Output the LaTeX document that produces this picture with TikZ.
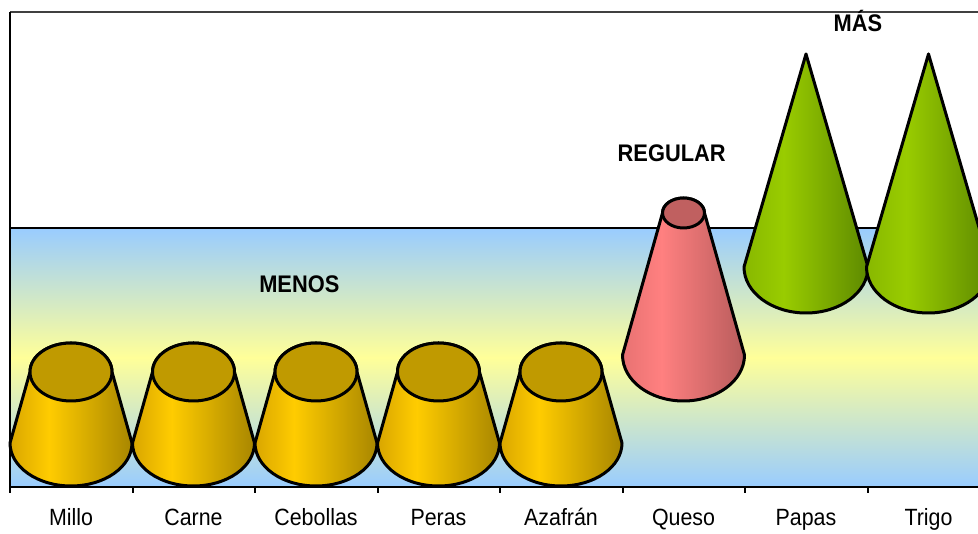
\documentclass[tikz,border=0pt]{standalone}
\usepackage{fontspec}
\setmainfont{Liberation Sans}[FakeStretch=0.91]
\usepackage{xcolor}

\definecolor{band-blue}{HTML}{99CCFF}
\definecolor{band-yellow}{HTML}{FFFF99}
\definecolor{gold-left}{HTML}{D9A600}
\definecolor{gold-light}{HTML}{FFCC00}
\definecolor{gold-right}{HTML}{A88600}
\definecolor{gold-top}{HTML}{C09A00}
\definecolor{rose-left}{HTML}{E87272}
\definecolor{rose-light}{HTML}{FF8080}
\definecolor{rose-right}{HTML}{B85C5C}
\definecolor{rose-top}{HTML}{C06060}
\definecolor{lime-left}{HTML}{88B800}
\definecolor{lime-light}{HTML}{99CC00}
\definecolor{lime-right}{HTML}{5E8A00}

\pgfdeclarehorizontalshading{gold-shade}{100bp}{color(0bp)=(gold-left); color(25bp)=(gold-left); color(41bp)=(gold-light); color(75bp)=(gold-right); color(100bp)=(gold-right)}
\pgfdeclarehorizontalshading{rose-shade}{100bp}{color(0bp)=(rose-left); color(25bp)=(rose-left); color(41bp)=(rose-light); color(75bp)=(rose-right); color(100bp)=(rose-right)}
\pgfdeclarehorizontalshading{lime-shade}{100bp}{color(0bp)=(lime-left); color(25bp)=(lime-left); color(41bp)=(lime-light); color(75bp)=(lime-right); color(100bp)=(lime-right)}

\tikzset{
    solid-body/.style = {draw=black, line width=3pt, line join=round},
    level-label/.style = {font=\fontsize{24}{27}\selectfont\bfseries, anchor=base},
    axis-label/.style = {font=\fontsize{23.5}{26}\selectfont, anchor=base},
}

\begin{document}
\begin{tikzpicture}[x=1pt, y=1pt]
\useasboundingbox (0,0) rectangle (978,534);
\fill[white] (0,0) rectangle (978,534);

% band behind the bodies
\shade[top color=band-blue, bottom color=band-blue, middle color=band-yellow] (10,47) rectangle (978,306);
\draw[line width=1.8pt] (10,306) -- (978,306);

% frame and axis
\draw[line width=1.3pt, black!75] (10,522) -- (978,522);
\draw[line width=2pt] (10,522) -- (10,47) -- (978,47);
\foreach \i in {0,...,7}
    \draw[line width=2pt] ({10+122.5*\i},47) -- ++(0,-6);
\foreach \name [count=\i from 0] in {Millo,Carne,Cebollas,Peras,Azafrán,Queso,Papas,Trigo}
    \node[axis-label] (cat-\i) at ({71+122.5*\i},8) {\name};

% low group
\foreach \cx in {71,193.5,316,438.5,561} {
    \shadedraw[solid-body, shading=gold-shade] ({\cx-41},162) -- ({\cx-61},91)
        arc[start angle=180, end angle=360, x radius=61, y radius=43]
        -- ({\cx+41},162) arc[start angle=0, end angle=180, x radius=41, y radius=29] -- cycle;
    \filldraw[solid-body, fill=gold-top] (\cx,162) ellipse[x radius=41, y radius=29];
}

% middle
\shadedraw[solid-body, shading=rose-shade] (662.5,321) -- (622.5,179)
    arc[start angle=180, end angle=360, x radius=61, y radius=46]
    -- (704.5,321) arc[start angle=0, end angle=180, x radius=21, y radius=15] -- cycle;
\filldraw[solid-body, fill=rose-top] (683.5,321) ellipse[x radius=21, y radius=15];

% high group
\foreach \cx in {806,928.5}
    \shadedraw[solid-body, shading=lime-shade] (\cx,480) -- ({\cx-62},267)
        arc[start angle=180, end angle=360, x radius=62, y radius=46] -- cycle;

\node[level-label] (menos) at (299.3,241.7) {MENOS};
\node[level-label] (regular) at (671.7,372.3) {REGULAR};
\node[level-label] (mas) at (858,502.3) {MÁS};
\end{tikzpicture}
\end{document}
